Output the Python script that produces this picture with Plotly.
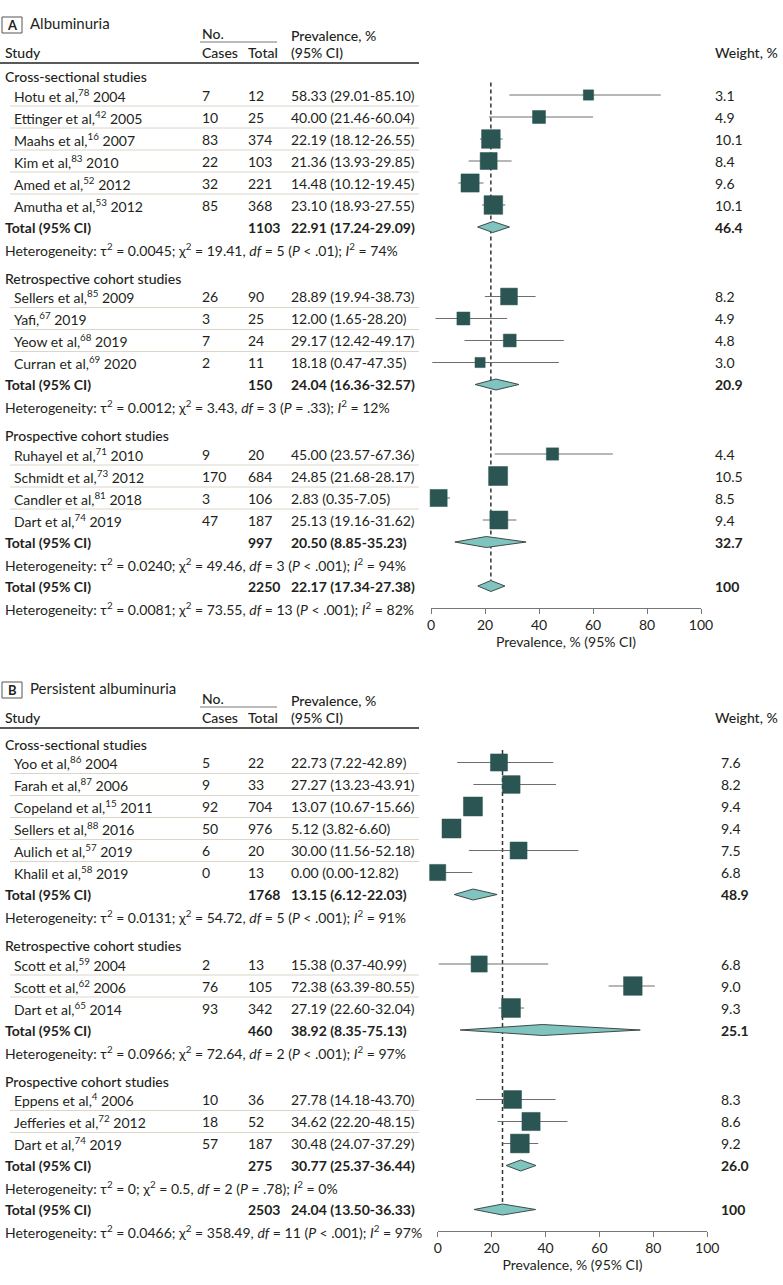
import plotly.graph_objects as go

W, H = 783, 1285
FONT = "Lato, 'Open Sans', sans-serif"
TXT = "#231f20"
SQ = "#2b5552"
DIA = "#7fc4bf"

# ---------------- Panel A: albuminuria ----------------
a_groups = ["Cross-sectional studies", "Retrospective cohort studies", "Prospective cohort studies"]
a_group_sizes = [6, 4, 4]
a_study = ["Hotu et al,<sup>78</sup> 2004", "Ettinger et al,<sup>42</sup> 2005", "Maahs et al,<sup>16</sup> 2007",
           "Kim et al,<sup>83</sup> 2010", "Amed et al,<sup>52</sup> 2012", "Amutha et al,<sup>53</sup> 2012",
           "Sellers et al,<sup>85</sup> 2009", "Yafi,<sup>67</sup> 2019", "Yeow et al,<sup>68</sup> 2019",
           "Curran et al,<sup>69</sup> 2020", "Ruhayel et al,<sup>71</sup> 2010", "Schmidt et al,<sup>73</sup> 2012",
           "Candler et al,<sup>81</sup> 2018", "Dart et al,<sup>74</sup> 2019"]
a_cases = [7, 10, 83, 22, 32, 85, 26, 3, 7, 2, 9, 170, 3, 47]
a_total = [12, 25, 374, 103, 221, 368, 90, 25, 24, 11, 20, 684, 106, 187]
a_est = [58.33, 40.00, 22.19, 21.36, 14.48, 23.10, 28.89, 12.00, 29.17, 18.18, 45.00, 24.85, 2.83, 25.13]
a_lo = [29.01, 21.46, 18.12, 13.93, 10.12, 18.93, 19.94, 1.65, 12.42, 0.47, 23.57, 21.68, 0.35, 19.16]
a_hi = [85.10, 60.04, 26.55, 29.85, 19.45, 27.55, 38.73, 28.20, 49.17, 47.35, 67.36, 28.17, 7.05, 31.62]
a_weight = [3.1, 4.9, 10.1, 8.4, 9.6, 10.1, 8.2, 4.9, 4.8, 3.0, 4.4, 10.5, 8.5, 9.4]
# subgroup totals, last entry = overall
a_sum_n = [1103, 150, 997, 2250]
a_sum_est = [22.91, 24.04, 20.50, 22.17]
a_sum_lo = [17.24, 16.36, 8.85, 17.34]
a_sum_hi = [29.09, 32.57, 35.23, 27.38]
a_sum_weight = ["46.4", "20.9", "32.7", "100"]
a_tau2 = ["0.0045", "0.0012", "0.0240", "0.0081"]
a_chi2 = ["19.41", "3.43", "49.46", "73.55"]
a_df = [5, 3, 3, 13]
a_p = ["< .01", "= .33", "< .001", "< .001"]
a_i2 = [74, 12, 94, 82]

# ---------------- Panel B: persistent albuminuria ----------------
b_groups = ["Cross-sectional studies", "Retrospective cohort studies", "Prospective cohort studies"]
b_group_sizes = [6, 3, 3]
b_study = ["Yoo et al,<sup>86</sup> 2004", "Farah et al,<sup>87</sup> 2006", "Copeland et al,<sup>15</sup> 2011",
           "Sellers et al,<sup>88</sup> 2016", "Aulich et al,<sup>57</sup> 2019", "Khalil et al,<sup>58</sup> 2019",
           "Scott et al,<sup>59</sup> 2004", "Scott et al,<sup>62</sup> 2006", "Dart et al,<sup>65</sup> 2014",
           "Eppens et al,<sup>4</sup> 2006", "Jefferies et al,<sup>72</sup> 2012", "Dart et al,<sup>74</sup> 2019"]
b_cases = [5, 9, 92, 50, 6, 0, 2, 76, 93, 10, 18, 57]
b_total = [22, 33, 704, 976, 20, 13, 13, 105, 342, 36, 52, 187]
b_est = [22.73, 27.27, 13.07, 5.12, 30.00, 0.00, 15.38, 72.38, 27.19, 27.78, 34.62, 30.48]
b_lo = [7.22, 13.23, 10.67, 3.82, 11.56, 0.00, 0.37, 63.39, 22.60, 14.18, 22.20, 24.07]
b_hi = [42.89, 43.91, 15.66, 6.60, 52.18, 12.82, 40.99, 80.55, 32.04, 43.70, 48.15, 37.29]
b_weight = [7.6, 8.2, 9.4, 9.4, 7.5, 6.8, 6.8, 9.0, 9.3, 8.3, 8.6, 9.2]
b_sum_n = [1768, 460, 275, 2503]
b_sum_est = [13.15, 38.92, 30.77, 24.04]
b_sum_lo = [6.12, 8.35, 25.37, 13.50]
b_sum_hi = [22.03, 75.13, 36.44, 36.33]
b_sum_weight = ["48.9", "25.1", "26.0", "100"]
b_tau2 = ["0.0131", "0.0966", "0", "0.0466"]
b_chi2 = ["54.72", "72.64", "0.5", "358.49"]
b_df = [5, 2, 2, 11]
b_p = ["< .001", "< .001", "= .78", "< .001"]
b_i2 = [91, 97, 0, 97]

tick_vals = [0, 20, 40, 60, 80, 100]
axis_title = "Prevalence, % (95% CI)"

fig = go.Figure()
ann = []
shapes = []


def px(x):
    return x / W


def text(x, y, s, size=14, bold=False, weight=None):
    f = dict(family=FONT, size=size, color=TXT)
    if bold:
        f["weight"] = "bold"
    elif weight:
        f["weight"] = weight
    ann.append(dict(x=px(x), y=y, xref="paper", yref="y", text=s, showarrow=False,
                    xanchor="left", yanchor="middle", font=f))


def hline(x0, x1, y, color, width):
    shapes.append(dict(type="line", xref="paper", yref="y", x0=px(x0), x1=px(x1), y0=y, y1=y,
                       line=dict(color=color, width=width)))


def het_text(tau, chi, df, p, i2):
    return (f"Heterogeneity: τ<sup>2</sup> = {tau}; χ<sup>2</sup> = {chi}, <i>df</i> = {df} "
            f"(<i>P</i> {p}); <i>I</i><sup>2</sup> = {i2}%")


def ci_text(e, lo, hi):
    return f"{e:.2f} ({lo:.2f}-{hi:.2f})"


def panel(letter, title, y_title, y_first, xa, w_x, groups, sizes, study, cases, total, est, lo, hi, weight,
          sum_n, sum_est, sum_lo, sum_hi, sum_w, tau2, chi2, dfs, ps, i2s):
    # header block
    shapes.append(dict(type="rect", xref="paper", yref="y", x0=px(2), x1=px(22), y0=y_title - 8, y1=y_title + 8,
                       line=dict(color="#555", width=1)))
    ann.append(dict(x=px(12), y=y_title, xref="paper", yref="y", text=f"<b>{letter}</b>", showarrow=False,
                    xanchor="center", yanchor="middle", font=dict(family=FONT, size=13, color=TXT)))
    text(28, y_title - 2, title, size=15)
    text(200, y_title + 8, "No.", weight=500)
    hline(200, 277, y_title + 17, "#777", 1)
    text(289, y_title + 10, "Prevalence, %", weight=500)
    y_hdr = y_title + 27
    text(3, y_hdr, "Study", weight=500)
    text(200, y_hdr, "Cases", weight=500)
    text(246, y_hdr, "Total", weight=500)
    text(289, y_hdr, "(95% CI)", weight=500)
    text(713, y_hdr, "Weight, %", weight=500)
    hline(0, 419, y_hdr + 11, "#222", 1.5)

    # row positions
    y = y_first
    rows, tots, hets = [], [], []
    i = 0
    for g, n in zip(groups, sizes):
        text(3, y, g, weight=500)
        y += 18.5
        for k in range(n):
            rows.append(y)
            text(12, y, study[i])
            text(200, y, str(cases[i]))
            text(246, y, str(total[i]))
            text(289, y, ci_text(est[i], lo[i], hi[i]))
            text(w_x, y, f"{weight[i]:.1f}")
            if k < n - 1:
                hline(10, 419, y + 11, "#dcd6c8", 1)
            i += 1
            y += 22
        tots.append(y)
        y += 22
        hets.append(y)
        y += 29
    # overall rows
    tots.append(hets[-1] + 22)
    hets.append(hets[-1] + 44)
    for j in range(len(tots)):
        text(3, tots[j], "<b>Total (95% CI)</b>")
        text(246, tots[j], f"<b>{sum_n[j]}</b>")
        text(289, tots[j], "<b>" + ci_text(sum_est[j], sum_lo[j], sum_hi[j]) + "</b>")
        text(w_x, tots[j], f"<b>{sum_w[j]}</b>")
        text(3, hets[j], het_text(tau2[j], chi2[j], dfs[j], ps[j], i2s[j]))

    # reference dashed line at overall estimate
    fig.add_trace(go.Scatter(x=[sum_est[-1], sum_est[-1]], y=[y_first + 6, tots[-1] - 5.5], mode="lines",
                             xaxis=xa, yaxis="y", line=dict(color="#333", width=1.5, dash="4px,3px"),
                             hoverinfo="skip", showlegend=False))
    # confidence intervals
    cx, cy = [], []
    for l, h, r in zip(lo, hi, rows):
        cx += [l, h, None]
        cy += [r, r, None]
    fig.add_trace(go.Scatter(x=cx, y=cy, mode="lines", xaxis=xa, yaxis="y",
                             line=dict(color="#6e6e6e", width=1), hoverinfo="skip", showlegend=False))
    # study squares, area proportional to weight
    wmax = max(weight)
    sizes_px = [19 * (w / wmax) ** 0.5 for w in weight]
    fig.add_trace(go.Scatter(x=est, y=rows, mode="markers", xaxis=xa, yaxis="y", cliponaxis=False,
                             marker=dict(symbol="square", size=sizes_px, color=SQ, opacity=1,
                                         line=dict(color=SQ, width=0.5)),
                             hoverinfo="skip", showlegend=False))
    # pooled diamonds
    for e, l, h, r in zip(sum_est, sum_lo, sum_hi, tots):
        fig.add_trace(go.Scatter(x=[l, e, h, e, l], y=[r, r - 5.5, r, r + 5.5, r], mode="lines",
                                 fill="toself", fillcolor=DIA, xaxis=xa, yaxis="y",
                                 line=dict(color="#3f4a49", width=1), hoverinfo="skip", showlegend=False))
    return hets[-1]


axis_a = panel("A", "Albuminuria", 25, 76.5, "x", 713, a_groups, a_group_sizes, a_study, a_cases, a_total,
               a_est, a_lo, a_hi, a_weight, a_sum_n, a_sum_est, a_sum_lo, a_sum_hi, a_sum_weight,
               a_tau2, a_chi2, a_df, a_p, a_i2)
axis_b = panel("B", "Persistent albuminuria", 690, 744, "x2", 719, b_groups, b_group_sizes, b_study, b_cases,
               b_total, b_est, b_lo, b_hi, b_weight, b_sum_n, b_sum_est, b_sum_lo, b_sum_hi, b_sum_weight,
               b_tau2, b_chi2, b_df, b_p, b_i2)


def xaxis(x0, x1, ypix):
    return dict(domain=[px(x0), px(x1)], range=[0, 100], anchor="free", position=1 - ypix / H,
                tickvals=tick_vals, ticks="outside", ticklen=5, tickcolor="#777", showline=True,
                linecolor="#777", linewidth=1, showgrid=False, zeroline=False, automargin=False,
                tickfont=dict(family=FONT, size=14, color=TXT),
                title=dict(text=axis_title, standoff=3, font=dict(family=FONT, size=14, color=TXT)))


fig.update_layout(
    width=W, height=H, autosize=False,
    margin=dict(l=0, r=0, t=0, b=0),
    paper_bgcolor="white", plot_bgcolor="rgba(0,0,0,0)",
    xaxis=xaxis(431, 701, axis_a - 0.5),
    xaxis2=xaxis(437.7, 707.3, axis_b - 1),
    yaxis=dict(domain=[0, 1], range=[H, 0], visible=False, fixedrange=True),
    annotations=ann, shapes=shapes, showlegend=False,
)

fig.write_html("out.html", config={"displayModeBar": False},
               post_script="document.body.style.margin='0';")
